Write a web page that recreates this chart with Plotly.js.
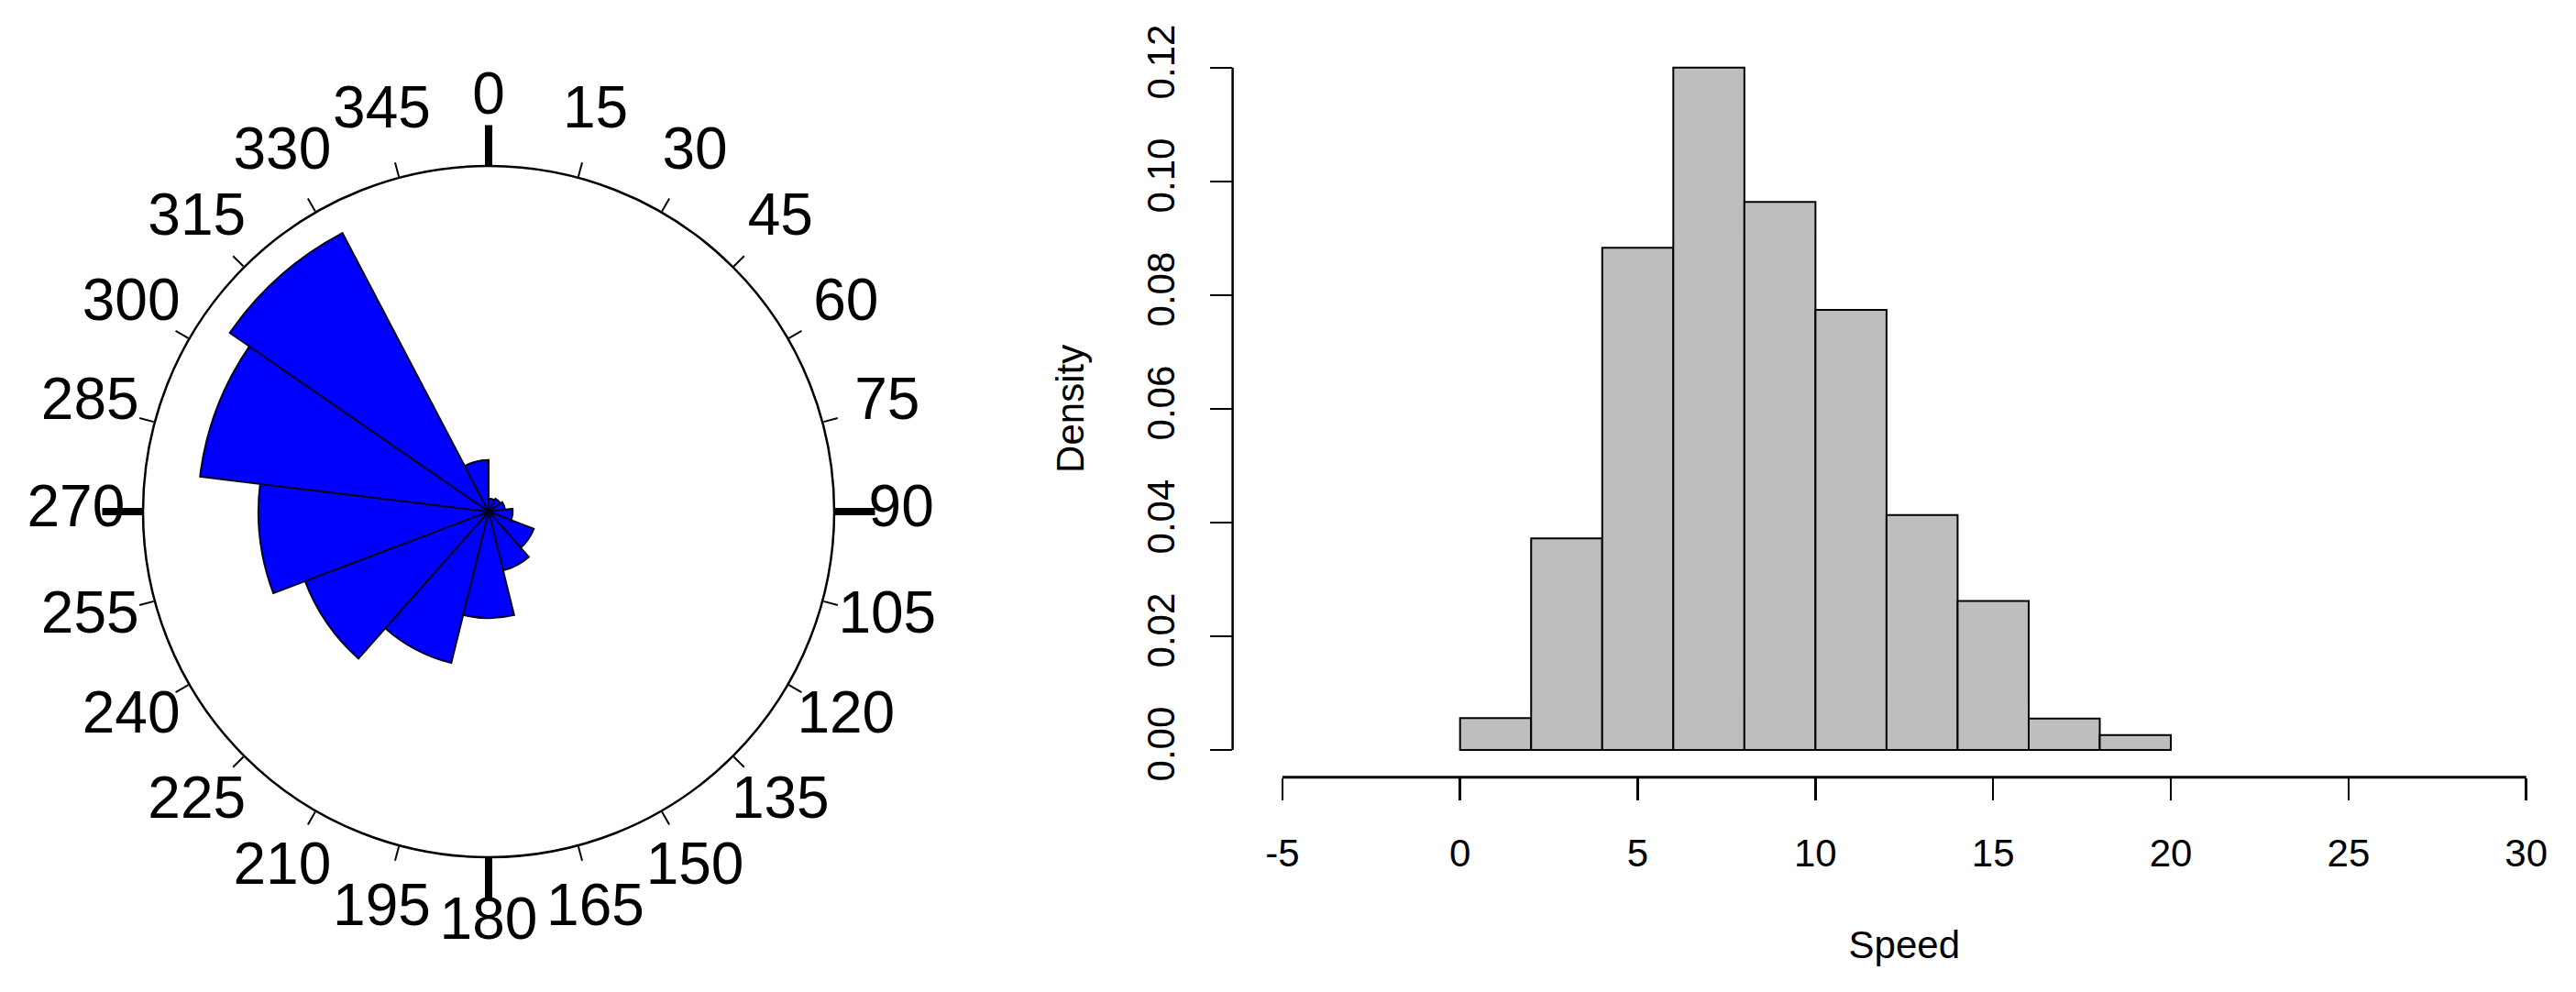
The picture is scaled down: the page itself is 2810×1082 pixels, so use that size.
<!DOCTYPE html>
<html><head><meta charset="utf-8">
<script src="https://cdn.plot.ly/plotly-3.0.1.min.js"></script>
<style>html,body{margin:0;padding:0;background:#fff;} #chart{width:2810px;height:1082px;}</style>
</head><body><div id="chart"></div>
<script>
// ---- Rose diagram: 13 bins, clockwise from north (degrees) ----
const roseBinStart = [0, 27.69, 55.38, 83.08, 110.77, 138.46, 166.15, 193.85, 221.54, 249.23, 276.92, 304.62, 332.31];
const roseBinWidth = 27.69;
// petal length relative to the outer circle (1 = circle)
const roseRadius = [0.038, 0.042, 0.048, 0.070, 0.140, 0.175, 0.308, 0.451, 0.568, 0.666, 0.841, 0.910, 0.149];
const angleTickVals = [0, 15, 30, 45, 60, 75, 90, 105, 120, 135, 150, 165, 180, 195, 210, 225, 240, 255, 270, 285, 300, 315, 330, 345];
const angleTickText = ['0','15','30','45','60','75','90','105','120','135','150','165','180','195','210','225','240','255','270','285','300','315','330','345'];
const majorAngles = [0, 90, 180, 270];

// ---- Histogram of Speed (density) ----
const speedBinStart = [0, 2, 4, 6, 8, 10, 12, 14, 16, 18];
const speedBinWidth = 2;
const speedDensity = [0.0056, 0.0372, 0.0883, 0.1200, 0.0964, 0.0774, 0.0413, 0.0262, 0.0055, 0.0026];
const xTicks = [-5, 0, 5, 10, 15, 20, 25, 30];
const xTickText = ['-5', '0', '5', '10', '15', '20', '25', '30'];
const yTicks = [0, 0.02, 0.04, 0.06, 0.08, 0.10, 0.12];
const yTickText = ['0.00', '0.02', '0.04', '0.06', '0.08', '0.10', '0.12'];

const FONT = 'Liberation Sans, Arial, Helvetica, sans-serif';
const W = 2810, H = 1082;
// rose geometry (pixels)
const cx = 533, cy = 558, R = 377, labelR = 1.194, outerRange = 1.3;
function dom(rpx) {
  return {x: [(cx - rpx) / W, (cx + rpx) / W], y: [(H - cy - rpx) / H, (H - cy + rpx) / H]};
}

const roseTheta = roseBinStart.map(s => s + roseBinWidth / 2);
const histX = speedBinStart.map(s => s + speedBinWidth / 2);

const traces = [
  { type: 'barpolar', subplot: 'polar2', r: roseRadius, theta: roseTheta,
    width: roseBinStart.map(() => roseBinWidth),
    marker: {color: '#0000FF', line: {color: '#000022', width: 2}},
    hoverinfo: 'skip', showlegend: false },
  { type: 'scatterpolar', subplot: 'polar3', mode: 'markers', r: [0], theta: [0],
    marker: {size: 1, color: 'rgba(0,0,0,0)'}, hoverinfo: 'skip', showlegend: false },
  { type: 'scatterpolar', subplot: 'polar', mode: 'text',
    r: angleTickVals.map(() => labelR), theta: angleTickVals, text: angleTickText,
    textposition: 'middle center', cliponaxis: false,
    textfont: {family: FONT, size: 64, color: '#000'}, hoverinfo: 'skip', showlegend: false },
  { type: 'bar', x: histX, y: speedDensity, width: speedBinStart.map(() => speedBinWidth),
    xaxis: 'x', yaxis: 'y',
    marker: {color: '#BEBEBE', line: {color: '#000', width: 2}},
    hoverinfo: 'skip', showlegend: false }
];

const layout = {
  width: W, height: H,
  margin: {l: 0, r: 0, t: 0, b: 0},
  paper_bgcolor: '#fff', plot_bgcolor: 'rgba(0,0,0,0)',
  font: {family: FONT, color: '#000'},
  showlegend: false,
  polar: {
    domain: dom(R * outerRange), bgcolor: 'rgba(0,0,0,0)',
    radialaxis: {range: [0, outerRange], visible: false, showgrid: false},
    angularaxis: {direction: 'clockwise', rotation: 90, visible: false, showgrid: false}
  },
  polar2: {
    domain: dom(R), bgcolor: 'rgba(0,0,0,0)', bargap: 0,
    radialaxis: {range: [0, 1], visible: false, showgrid: false},
    angularaxis: {direction: 'clockwise', rotation: 90, showgrid: false,
      showline: true, linecolor: '#000', linewidth: 2.5,
      tickmode: 'array', tickvals: angleTickVals, ticks: 'outside', ticklen: 16, tickwidth: 2, tickcolor: '#000',
      showticklabels: false}
  },
  polar3: {
    domain: dom(R), bgcolor: 'rgba(0,0,0,0)',
    radialaxis: {range: [0, 1], visible: false, showgrid: false},
    angularaxis: {direction: 'clockwise', rotation: 90, showgrid: false, showline: false,
      tickmode: 'array', tickvals: majorAngles, ticks: 'outside', ticklen: 44, tickwidth: 8, tickcolor: '#000',
      showticklabels: false}
  },
  xaxis: {
    domain: [0.4785, 1], anchor: 'y', range: [-6.4, 31.4],
    showgrid: false, zeroline: false, showline: false,
    tickmode: 'array', tickvals: xTicks, ticktext: xTickText, ticks: 'outside', ticklen: 24, tickwidth: 2.5, tickcolor: '#000',
    tickfont: {family: FONT, size: 42, color: '#000'}, ticklabelstandoff: 22,
    title: {text: 'Speed', font: {family: FONT, size: 42, color: '#000'}, standoff: 62}
  },
  yaxis: {
    domain: [0.2166, 0.9593], anchor: 'x', range: [-0.0048, 0.1248],
    showgrid: false, zeroline: false, showline: false,
    tickmode: 'array', tickvals: yTicks, ticktext: yTickText, tickangle: -90,
    ticks: 'outside', ticklen: 24, tickwidth: 2.5, tickcolor: '#000',
    tickfont: {family: FONT, size: 42, color: '#000'}, ticklabelstandoff: 22,
    title: {text: 'Density', font: {family: FONT, size: 42, color: '#000'}, standoff: 47}
  },
  shapes: [
    {type: 'line', xref: 'x domain', yref: 'y', x0: 0, x1: 0, y0: yTicks[0], y1: yTicks[yTicks.length - 1],
     line: {color: '#000', width: 2.5}},
    {type: 'line', xref: 'x', yref: 'y domain', x0: xTicks[0], x1: xTicks[xTicks.length - 1], y0: 0, y1: 0,
     line: {color: '#000', width: 3}}
  ]
};

Plotly.newPlot('chart', traces, layout, {staticPlot: true, displayModeBar: false});
</script></body></html>
